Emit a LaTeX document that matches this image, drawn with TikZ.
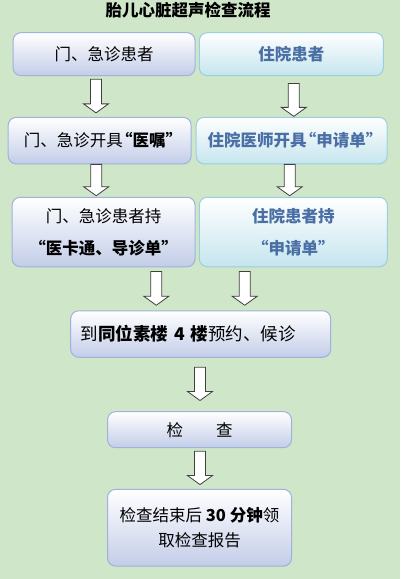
\documentclass[tikz,border=0pt]{standalone}
\usepackage{fontspec}
\setmainfont{Noto Sans CJK SC}
\usetikzlibrary{calc}

\definecolor{bggreen}{HTML}{CFE6C9}
\definecolor{lavline}{HTML}{9EB2DC}
\definecolor{lavfill}{HTML}{C3CDE8}
\definecolor{cyanline}{HTML}{9CCFDD}
\definecolor{cyanfill}{HTML}{C5E5EE}
\definecolor{wardblue}{HTML}{4A6FA5}

% narrow quotes
\newcommand{\qopen}{\kern-0.4em“}
\newcommand{\qclose}{”\kern-0.4em}

% hollow block arrow from #1 down to tip #2
\newcommand{\blkarrow}[2]{%
  \draw[blkarr] let \p1=(#1), \p2=(#2) in
    (\x1-5.5pt,\y1) -- (\x1+5.5pt,\y1) -- (\x1+5.5pt,\y2+9pt) -- (\x1+12.5pt,\y2+9pt)
    -- (\x1,\y2) -- (\x1-12.5pt,\y2+9pt) -- (\x1-5.5pt,\y2+9pt) -- cycle;}

\begin{document}
\begin{tikzpicture}[x=1pt, y=-1pt,
    outbox/.style={draw=lavline, line width=1pt, rounded corners=8pt, top color=white,
          bottom color=lavfill, inner sep=0pt, align=center,
          font=\fontsize{16.5}{20}\selectfont},
    wardbox/.style={draw=cyanline, line width=1pt, rounded corners=8pt, top color=white,
          bottom color=cyanfill, inner sep=0pt, align=center, text=wardblue,
          font=\fontsize{16.5}{20}\selectfont\bfseries},
    blkarr/.style={draw=black!75, fill=white, line width=0.8pt, line join=miter}]
    \fill[bggreen] (0,0) rectangle (400,579);
    \useasboundingbox (0,0) rectangle (400,579);

    \node[font=\fontsize{16.5}{20}\selectfont\bfseries] (title) at (188,10) {胎儿心脏超声检查流程};

    % outpatient side
    \node[outbox, minimum width=182pt, minimum height=43pt] (l1) at (104,54.2) {门、急诊患者};
    \node[outbox, minimum width=183pt, minimum height=46.5pt] (l2) at (99.7,140.6) {门、急诊开具\textbf{\qopen 医嘱\qclose}};
    \node[outbox, minimum width=183pt, minimum height=69.5pt, font=\fontsize{16.5}{32}\selectfont]
          (l3) at (103.6,232) {门、急诊患者持\\\textbf{\qopen 医卡通、导诊单\qclose}};

    % inpatient side
    \node[wardbox, minimum width=184pt, minimum height=43pt] (r1) at (291.3,54.2) {住院患者};
    \node[wardbox, minimum width=191pt, minimum height=46.5pt] (r2) at (291.7,140.6) {住院医师开具\qopen 申请单\qclose};
    \node[wardbox, minimum width=188pt, minimum height=69.5pt, font=\fontsize{16.5}{32}\selectfont\bfseries]
          (r3) at (293.3,232) {住院患者持\\\qopen 申请单\qclose};

    % common part
    \node[outbox, minimum width=260pt, minimum height=46.5pt, text width=240pt, align=left,
          font=\fontsize{17.5}{20}\selectfont] (m1) at (200.7,334) {到\textbf{同位素楼 4 楼}预约、候诊};
    \node[outbox, minimum width=184pt, minimum height=36pt] (m2) at (199.5,429.7) {检\hspace{2em}查};
    \node[outbox, minimum width=184pt, minimum height=76.7pt, font=\fontsize{16.5}{25}\selectfont]
          (m3) at (199.5,527.7) {检查结束后 \textbf{30 分钟}领\\取检查报告};

    \blkarrow{$(l1.south)+(-8,3)$}{$(l2.north)+(-8,-4)$}
    \blkarrow{$(r1.south)+(2.5,7.3)$}{$(r2.north)+(2.5,-0.5)$}
    \blkarrow{$(l2.south)+(-3.5,0)$}{$(l3.north)+(-3.5,-1)$}
    \blkarrow{$(r2.south)+(-2,0)$}{$(r3.north)+(-2,-1)$}
    \blkarrow{$(l3.south)+(52.7,4.3)$}{$(m1.north)+(-44.5,-5)$}
    \blkarrow{$(r3.south)+(-48.6,4.3)$}{$(m1.north)+(44,-5)$}
    \blkarrow{$(m1.south)+(-0.7,9.4)$}{$(m2.north)+(0.5,-10.7)$}
    \blkarrow{$(m2.south)+(0.5,3)$}{$(m3.north)+(0.5,-4.3)$}
\end{tikzpicture}
\end{document}
